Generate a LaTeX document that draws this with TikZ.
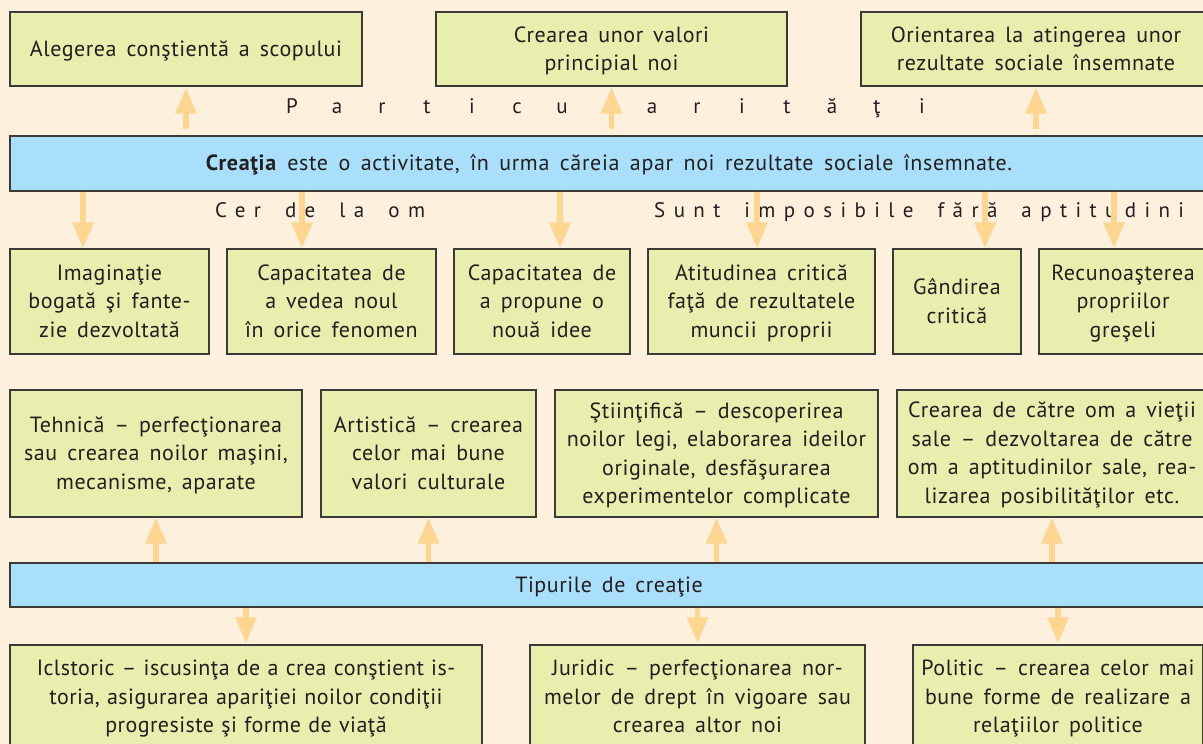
\documentclass[tikz,border=0pt]{standalone}
\usepackage{fontspec}
\setmainfont{PT Sans}[LetterSpace=2.5,WordSpace=1.55]
\newfontfamily\barfont{PT Sans}[LetterSpace=3,WordSpace=1.6]
\newfontfamily\tightfont{PT Sans}[LetterSpace=2,WordSpace=1.15]
\newfontfamily\spacedfont{PT Sans}[LetterSpace=40]
\usetikzlibrary{arrows.meta}
\definecolor{bgc}{HTML}{FDF0DC}
\definecolor{boxc}{HTML}{E8EEAE}
\definecolor{barc}{HTML}{A9DFFA}
\definecolor{arrc}{HTML}{FFD592}
\definecolor{bordc}{HTML}{3C3A36}
\definecolor{txtc}{HTML}{231F20}
\newcommand\ls{\rule[-4.5pt]{0pt}{23.5pt}}
\newcommand\pl[1]{\makebox[45pt]{#1}}
\newcommand\wg{\hspace{24pt}}
\begin{document}
\begin{tikzpicture}[x=1pt,y=-1pt,
  box/.style={draw=bordc, line width=1.2pt, fill=boxc, align=center, inner sep=0pt,
    text=txtc, font=\fontsize{22}{28.5}\selectfont},
  bar/.style={box, fill=barc},
  spaced/.style={inner sep=0pt, text=txtc, font=\spacedfont\fontsize{21}{25}\selectfont},
  fatarrow/.style={draw=arrc, line width=5.5pt, -{Triangle[width=20pt,length=26pt]}}]
\useasboundingbox (0,0) rectangle (1203,744);
\fill[bgc] (0,0) rectangle (1203,744);
\clip (0,0) rectangle (1203,744);

% top row
\node[box, minimum width=352pt, minimum height=74pt] (a1) at (186,49) {\ls Alegerea conştientă a scopului};
\node[box, minimum width=351pt, minimum height=74pt] (a2) at (611.5,49) {\ls Crearea unor valori\\\ls principial noi};
\node[box, minimum width=350pt, minimum height=74pt] (a3) at (1036,49) {\ls Orientarea la atingerea unor\\\ls rezultate sociale însemnate};

% main bar
\node[bar, minimum width=1198pt, minimum height=55pt, font=\barfont\fontsize{22}{28.5}\selectfont] (bar1) at (609,163.5) {\ls\textbf{Creaţia} este o activitate, în urma căreia apar noi rezultate sociale însemnate.};

% spaced labels
\node[inner sep=0pt, text=txtc, font=\fontsize{21}{25}\selectfont, anchor=base] (part) at (607,113) {\pl{P}\pl{a}\pl{r}\pl{t}\pl{i}\pl{c}\pl{u}\pl{\hspace{8pt}l}\pl{a}\pl{r}\pl{i}\pl{t}\pl{ă}\pl{ţ}\pl{i}};
\node[spaced, anchor=base west] (cer) at (215,217) {Cer\wg de\wg la\wg om};
\node[spaced, anchor=base west] (sunt) at (654,217) {Sunt\wg imposibile\wg fără\wg aptitudini};

% second row
\node[box, minimum width=199pt, minimum height=105pt] (b1) at (109.5,301.5) {\ls Imaginaţie\\\ls bogată şi fante-\\\ls zie dezvoltată};
\node[box, minimum width=209pt, minimum height=105pt] (b2) at (331.5,301.5) {\ls Capacitatea de\\\ls a vedea noul\\\ls în orice fenomen};
\node[box, minimum width=176pt, minimum height=105pt] (b3) at (542,301.5) {\ls Capacitatea de\\\ls a propune o\\\ls nouă idee};
\node[box, minimum width=227pt, minimum height=105pt] (b4) at (761.5,301.5) {\ls Atitudinea critică\\\ls faţă de rezultatele\\\ls muncii proprii};
\node[box, minimum width=128pt, minimum height=105pt] (b5) at (957,301.5) {\ls Gândirea\\\ls critică};
\node[box, minimum width=168pt, minimum height=105pt] (b6) at (1123,301.5) {\ls Recunoaşterea\\\ls propriilor\\\ls greşeli};

% third row
\node[box, minimum width=292pt, minimum height=127pt] (c1) at (156,453.5) {\ls Tehnică – perfecţionarea\\\ls sau crearea noilor maşini,\\\ls mecanisme, aparate};
\node[box, minimum width=215pt, minimum height=127pt] (c2) at (428.5,453.5) {\ls Artistică – crearea\\\ls celor mai bune\\\ls valori culturale};
\node[box, minimum width=323pt, minimum height=127pt] (c3) at (716.5,453.5) {\ls Ştiinţifică – descoperirea\\\ls noilor legi, elaborarea ideilor\\\ls originale, desfăşurarea\\\ls experimentelor complicate};
\node[box, minimum width=310pt, minimum height=127pt] (c4) at (1052,453.5) {\ls Crearea de către om a vieţii\\\ls sale – dezvoltarea de către\\\ls om a aptitudinilor sale, rea-\\\ls lizarea posibilităţilor etc.};

% types bar
\node[bar, minimum width=1198pt, minimum height=44pt] (bar2) at (609,585) {\ls Tipurile de creaţie};

% bottom row
\node[box, minimum width=472pt, minimum height=104pt, font=\tightfont\fontsize{22}{28.5}\selectfont] (d1) at (246,697) {\ls Iclstoric – iscusinţa de a crea conştient is-\\\ls toria, asigurarea apariţiei noilor condiţii\\\ls progresiste şi forme de viaţă};
\node[box, minimum width=335pt, minimum height=104pt] (d2) at (697.5,697) {\ls Juridic – perfecţionarea nor-\\\ls melor de drept în vigoare sau\\\ls crearea altor noi};
\node[box, minimum width=290pt, minimum height=104pt] (d3) at (1058,697) {\ls Politic – crearea celor mai\\\ls bune forme de realizare a\\\ls relaţiilor politice};

% arrow columns for the second row
\coordinate (k1) at (83,0);
\coordinate (k2) at (302,0);
\coordinate (k3) at (560,0);
\coordinate (k4) at (757,0);
\coordinate (k5) at (985,0);
\coordinate (k6) at (1114,0);

% arrows
\foreach \t in {a1,a2,a3}
  \draw[fatarrow, shorten <=6pt, shorten >=1pt] (\t.center |- bar1.north) -- (\t.south);
\draw[fatarrow] (k1 |- bar1.south) -- (k1 |- b1.north);
\draw[fatarrow] (k2 |- bar1.south) -- (k2 |- b2.north);
\draw[fatarrow] (k3 |- bar1.south) -- (k3 |- b3.north);
\draw[fatarrow] (k4 |- bar1.south) -- (k4 |- b4.north);
\draw[fatarrow] (k5 |- bar1.south) -- (k5 |- b5.north);
\draw[fatarrow] (k6 |- bar1.south) -- (k6 |- b6.north);
\foreach \t in {c1,c2,c3,c4}
  \draw[fatarrow] (\t.center |- bar2.north) -- (\t.south);
\foreach \t in {d1,d2,d3}
  \draw[fatarrow, shorten >=1pt] (\t.center |- bar2.south) -- (\t.north);
\end{tikzpicture}
\end{document}
